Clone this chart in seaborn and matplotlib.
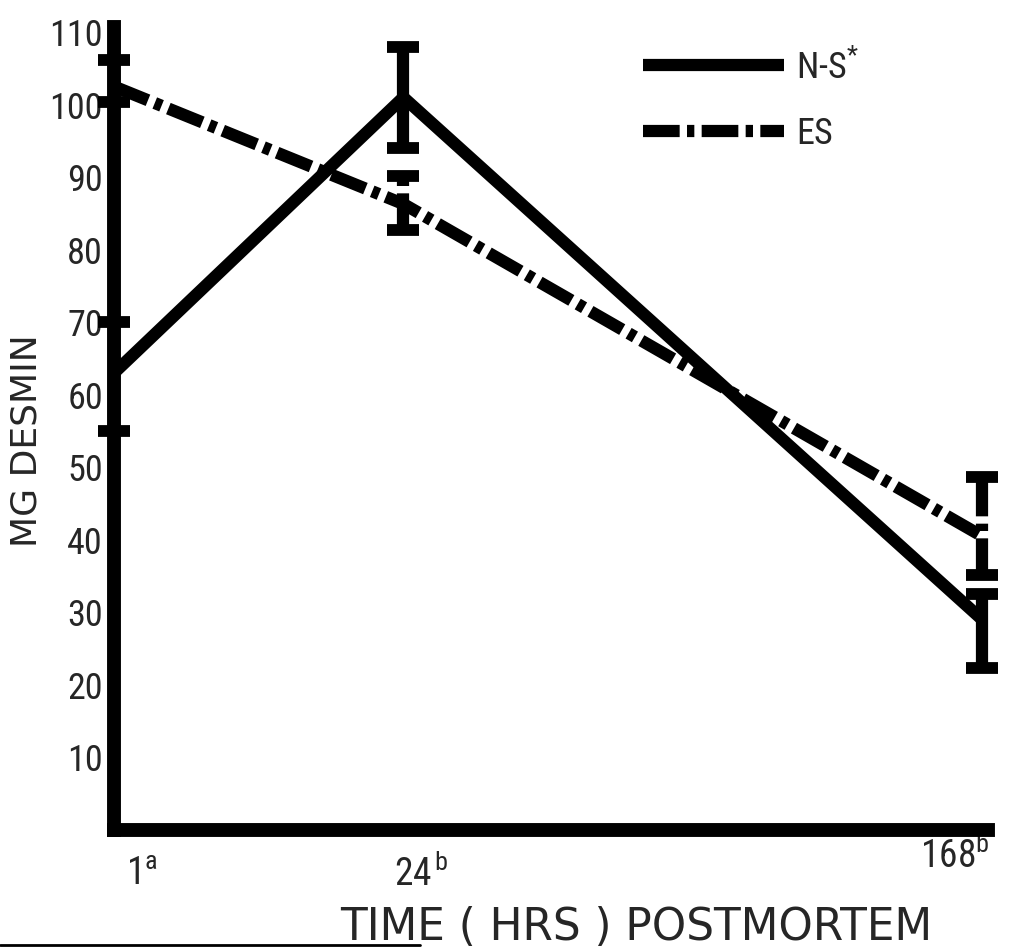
import numpy as np
import pandas as pd
import matplotlib
matplotlib.use("Agg")
import matplotlib.pyplot as plt
import seaborn as sns
from matplotlib import font_manager as fm
from matplotlib.lines import Line2D
from matplotlib.transforms import ScaledTranslation

# ---- data ----
hours = ["1", "24", "168"]
hour_labels = [r"$\mathregular{1^{a}}$", r"$\mathregular{24^{\,b}}$", r"$\mathregular{168^{b}}$"]
ns_mean = [63, 101, 29]
ns_low = [55, 94, 22.3]
ns_high = [70, 108, 32.6]
es_mean = [102.5, 86.3, 40.5]
es_low = [100.4, 82.7, 35.2]
es_high = [106.1, 90.1, 48.7]
series_names = ["N-S$^{*}$", "ES"]
y_ticks = [10, 20, 30, 40, 50, 60, 70, 80, 90, 100, 110]

sns.set_style("white")
names = {f.name for f in fm.fontManager.ttflist}
fam = "DejaVu Sans"
for cand in ["Liberation Sans Narrow", "Roboto Condensed", "Open Sans Condensed", "Liberation Sans"]:
    if cand in names:
        fam = cand
        break
plt.rcParams["font.family"] = [fam, "DejaVu Sans"]
plt.rcParams["mathtext.fontset"] = "custom"
plt.rcParams["mathtext.rm"] = fam
plt.rcParams["mathtext.it"] = fam
plt.rcParams["mathtext.bf"] = fam

fig = plt.figure(figsize=(10.35, 9.5), dpi=100)
W, H = 1035, 950
ax = fig.add_axes([114 / W, 1 - 830 / H, (988 - 114) / W, (830 - 27) / H])

xpos = [0, 1, 3]
df = pd.DataFrame({
    "x": xpos * 2,
    "y": ns_mean + es_mean,
    "series": [series_names[0]] * 3 + [series_names[1]] * 3,
})

lw = 8.8
dash = (3.0, 0.6, 0.6, 0.6)
sns.lineplot(data=df, x="x", y="y", hue="series", style="series",
             palette=["black", "black"], dashes=[(1, 0), dash],
             linewidth=lw, ax=ax, legend=False, zorder=3)
for line in ax.lines:
    line.set_solid_capstyle("butt")
    line.set_clip_on(False)

def draw_err(mean, low, high, ls):
    m = np.array(mean); lo = np.array(low); hi = np.array(high)
    eb = ax.errorbar(xpos, m, yerr=[m - lo, hi - m], fmt="none", ecolor="black",
                     elinewidth=lw, capsize=11.5, capthick=8.5, zorder=4)
    for c in eb[1]:
        c.set_clip_on(False)
    for lc in eb[2]:
        lc.set_clip_on(False)
        if ls is not None:
            lc.set_linestyle(ls)

draw_err(ns_mean, ns_low, ns_high, None)
draw_err(es_mean, es_low, es_high, (0, dash))

ax.set_xlim(0, 3.02)
ax.set_ylim(0, 110.7)
ax.set_yticks(y_ticks)
ax.set_yticklabels([str(t) for t in y_ticks], fontsize=26)
ax.set_xticks(xpos)
ax.set_xticklabels(hour_labels, fontsize=27)
ax.tick_params(axis="both", length=0)
ax.tick_params(axis="y", pad=8)
ax.tick_params(axis="x", pad=0)

# individual x tick label placement (pixel offsets)
offs = [("left", 12, -55), ("left", -9, -55), ("right", 7, -37)]
for lab, (ha, dx, dy) in zip(ax.get_xticklabels(), offs):
    lab.set_ha(ha)
    lab.set_va("baseline")
    lab.set_transform(ax.get_xaxis_transform() +
                      ScaledTranslation(dx / 100, dy / 100, fig.dpi_scale_trans))

for s in ["top", "right"]:
    ax.spines[s].set_visible(False)
for s in ["left", "bottom"]:
    ax.spines[s].set_linewidth(10)
    ax.spines[s].set_color("black")
    ax.spines[s].set_capstyle("projecting")

ax.set_ylabel("MG DESMIN", fontsize=26, family="DejaVu Sans")
ax.yaxis.label.set_va("center")
ax.yaxis.set_label_coords((27 - 114) / 874, (830 - 441) / 803)
ax.set_xlabel("TIME ( HRS ) POSTMORTEM", fontsize=31.5, family="DejaVu Sans")
ax.xaxis.label.set_va("baseline")
ax.xaxis.set_label_coords((636 - 114) / 874, (830 - 940) / 803)

handles = [Line2D([], [], color="black", lw=lw, solid_capstyle="butt"),
           Line2D([], [], color="black", lw=lw, dashes=dash)]
ax.legend(handles, series_names, loc="upper left", bbox_to_anchor=(643 / W, 1 - 48 / H),
          bbox_transform=fig.transFigure, frameon=False, fontsize=26,
          handlelength=3.9, handletextpad=0.35, labelspacing=0.83,
          borderpad=0, borderaxespad=0)

fig.add_artist(Line2D([0, 420 / W], [1 - 945 / H] * 2, transform=fig.transFigure,
                      color="black", lw=2))

fig.savefig("out.png", dpi=100)
